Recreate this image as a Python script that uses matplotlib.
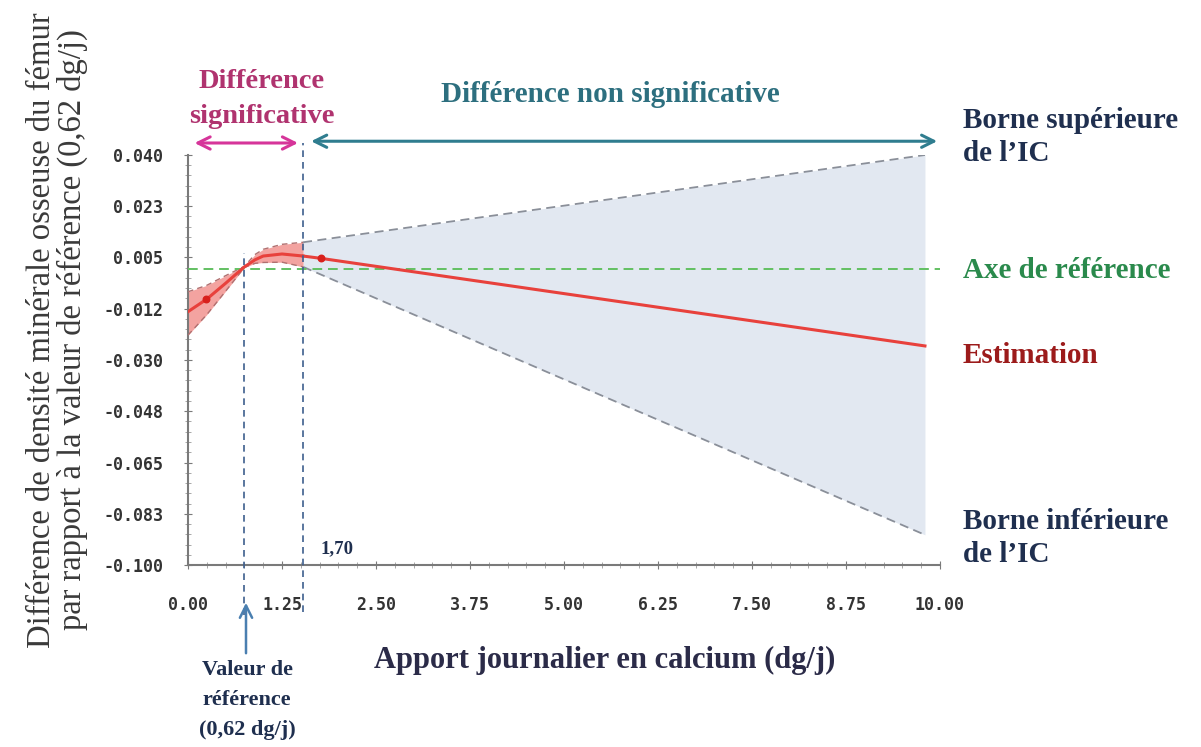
import numpy as np
import matplotlib
matplotlib.use('Agg')
import matplotlib.pyplot as plt
from matplotlib.ticker import AutoMinorLocator

# valeurs
x_band = [0.0, 0.25, 0.5, 0.75, 0.89, 1.0, 1.25, 1.53]
est_band = [-0.0135, -0.0092, -0.0038, 0.0018, 0.0042, 0.0055, 0.0062, 0.0055]
up_band = [-0.0067, -0.0045, -0.0012, 0.0020, 0.0060, 0.0078, 0.0095, 0.0102]
lo_band = [-0.0215, -0.0145, -0.0065, 0.0016, 0.0030, 0.0033, 0.0034, 0.0018]

x_tail = [1.53, 9.8]
up_tail = [0.0102, 0.040]
lo_tail = [0.0018, -0.0897]
x_est_tail = [1.53, 1.77, 9.8]
est_tail = [0.0055, 0.0047, -0.0252]

dots_x = [0.24, 1.77]
dots_y = [-0.0092, 0.0047]

x_ref = 0.75
x_sig = 1.53
y_ref = 0.001

xticks = [0, 1.25, 2.5, 3.75, 5.0, 6.25, 7.5, 8.75, 10.0]
xtick_labels = ['0.00', '1.25', '2.50', '3.75', '5.00', '6.25', '7.50', '8.75', '10.00']
yticks = [0.04, 0.0225, 0.005, -0.0125, -0.03, -0.0475, -0.065, -0.0825, -0.1]
ytick_labels = ['0.040', '0.023', '0.005', '-0.012', '-0.030', '-0.048', '-0.065', '-0.083', '-0.100']

serif = 'Liberation Serif'
navy = '#1f2f4f'

fig = plt.figure(figsize=(12.01, 7.47), dpi=100)
ax = fig.add_axes([188/1201, 182/747, 752/1201, 410/747])

ax.fill_between(x_tail, lo_tail, up_tail, color='#e2e8f1', lw=0, zorder=1)
ax.plot(x_tail, up_tail, ls=(0, (5, 3)), color='#8a8f99', lw=1.3, zorder=3)
ax.plot(x_tail, lo_tail, ls=(0, (5, 3)), color='#8a8f99', lw=1.3, zorder=3)

ax.fill_between(x_band, lo_band, up_band, color='#f3a3a0', lw=0, zorder=2)
ax.plot(x_band, up_band, ls=(0, (4, 3)), color='#b07070', lw=1.0, zorder=3)
ax.plot(x_band, lo_band, ls=(0, (4, 3)), color='#b07070', lw=1.0, zorder=3)

ax.axhline(y_ref, xmin=0, xmax=1, ls=(0, (5, 3)), color='#62c062', lw=1.4, zorder=4)

ax.plot(x_band, est_band, color='#e8413c', lw=2.2, zorder=5)
ax.plot(x_est_tail, est_tail, color='#e8413c', lw=2.2, zorder=5)
ax.scatter(dots_x, dots_y, s=22, color='#d8201c', zorder=6)

ax.set_xlim(0, 10)
ax.set_ylim(-0.1, 0.04)

# lignes verticales en pointillés qui débordent sous l'axe
ax.plot([x_ref, x_ref], [-0.1172, 0.0066], ls=(0, (4, 3)), color='#3d5f8e',
        lw=1.2, clip_on=False, zorder=7)
ax.plot([x_sig, x_sig], [-0.1160, 0.0441], ls=(0, (4, 3)), color='#3d5f8e',
        lw=1.2, clip_on=False, zorder=7)

for s in ['top', 'right']:
    ax.spines[s].set_visible(False)
for s in ['left', 'bottom']:
    ax.spines[s].set_color('#7a7a7a')
    ax.spines[s].set_linewidth(1.5)

ax.set_xticks(xticks)
ax.set_xticklabels(xtick_labels)
ax.set_yticks(yticks)
ax.set_yticklabels(ytick_labels)
ax.xaxis.set_minor_locator(AutoMinorLocator(5))
ax.yaxis.set_minor_locator(AutoMinorLocator(5))
ax.tick_params(which='major', direction='inout', length=6, color='#7a7a7a',
               labelsize=12, labelcolor='#333333')
ax.tick_params(which='minor', direction='inout', length=4, color='#9a9a9a')
ax.tick_params(axis='x', pad=19)
ax.tick_params(axis='y', pad=15)
for lab in ax.get_xticklabels() + ax.get_yticklabels():
    lab.set_family('DejaVu Sans Mono')
    lab.set_weight('bold')

# flèches du haut
ax.annotate('', xy=(0.05, 0.0441), xytext=(1.5, 0.0441), xycoords='data',
            arrowprops=dict(arrowstyle='<->', color='#d6359a', lw=2.2,
                            mutation_scale=22), annotation_clip=False)
ax.annotate('', xy=(1.6, 0.0447), xytext=(10.0, 0.0447), xycoords='data',
            arrowprops=dict(arrowstyle='<->', color='#2f7d8f', lw=2.2,
                            mutation_scale=22), annotation_clip=False)

fig.text(262/1201, 1 - 99/747, 'Différence\nsignificative', ha='center', va='center',
         fontsize=20.5, family=serif, weight='bold', color='#b0336f', linespacing=1.5)
fig.text(610/1201, 1 - 95/747, 'Différence non significative', ha='center', va='center',
         fontsize=21, family=serif, weight='bold', color='#2d6f7f')

# étiquettes à droite
fig.text(963/1201, 1 - 137/747, 'Borne supérieure\nde l\u2019IC', ha='left', va='center',
         fontsize=21, family=serif, weight='bold', color=navy, linespacing=1.3)
fig.text(963/1201, 1 - 270/747, 'Axe de référence', ha='left', va='center',
         fontsize=21, family=serif, weight='bold', color='#2a8a4c')
fig.text(963/1201, 1 - 356/747, 'Estimation', ha='left', va='center',
         fontsize=21, family=serif, weight='bold', color='#9c1b1b')
fig.text(963/1201, 1 - 538/747, 'Borne inférieure\nde l\u2019IC', ha='left', va='center',
         fontsize=21, family=serif, weight='bold', color=navy, linespacing=1.3)

fig.text(321/1201, 1 - 549/747, '1,70', ha='left', va='center',
         fontsize=13.5, family=serif, weight='bold', color=navy)

# valeur de référence
fig.patches.append(matplotlib.patches.FancyArrowPatch(
    (246/1201, 1 - 656/747), (246/1201, 1 - 600/747), transform=fig.transFigure,
    arrowstyle='->', mutation_scale=22, color='#4a7fb0', lw=1.8))
fig.text(247/1201, 1 - 700/747, 'Valeur de\nréférence\n(0,62 dg/j)', ha='center', va='center',
         fontsize=16, family=serif, weight='bold', color=navy, linespacing=1.65)

fig.text(605/1201, 1 - 660/747, 'Apport journalier en calcium (dg/j)', ha='center', va='center',
         fontsize=22, family=serif, weight='bold', color='#2b2b48')

fig.text(57/1201, 1 - 330/747, 'Différence de densité minérale osseuse du fémur\n'
         'par rapport à la valeur de référence (0,62 dg/j)', ha='center', va='center',
         rotation=90, fontsize=23.5, family=serif, color='#3a3a3a', linespacing=1.0)

fig.savefig('out.png', dpi=100)
